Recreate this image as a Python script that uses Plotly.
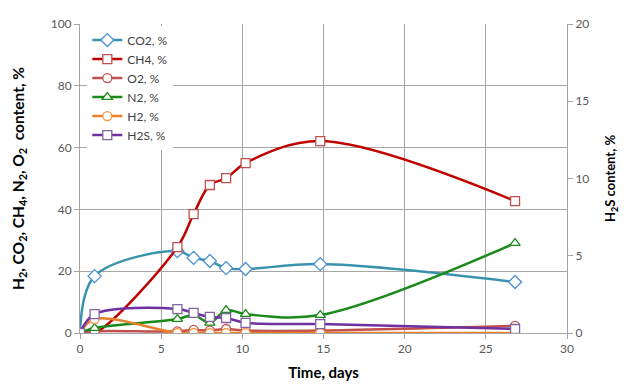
import plotly.graph_objects as go

days = [0, 0.9, 6.0, 7.0, 8.0, 9.0, 10.2, 14.8, 26.8]
co2 = [0, 18.4, 26.5, 24.3, 23.3, 21.0, 20.7, 22.3, 16.5]
ch4 = [0, 0, 27.8, 38.5, 47.9, 50.1, 55.0, 62.1, 42.7]
o2 = [0, 0.6, 0.5, 1.0, 0.8, 1.3, 0.8, 0.8, 2.3]
n2 = [0, 1.6, 4.5, 5.8, 3.3, 7.4, 6.1, 5.8, 29.1]
h2 = [0, 4.5, 0, 0, 0, 0, 0, 0, 0]
h2s = [0, 1.22, 1.55, 1.3, 1.04, 0.97, 0.66, 0.58, 0.26]

series = [
    ("CO2, %", co2, "#3a93ad", "#4a8fd0", "diamond", "y"),
    ("CH4, %", ch4, "#c00000", "#c0504d", "square", "y"),
    ("O2, %", o2, "#c0504d", "#c0504d", "circle", "y"),
    ("N2, %", n2, "#1a8a1a", "#1a8a1a", "triangle-up", "y"),
    ("H2, %", h2, "#e9802a", "#f79646", "circle", "y"),
    ("H2S, %", h2s, "#7030a0", "#8064a2", "square", "y2"),
]

fig = go.Figure()
for name, vals, lc, mc, sym, ax in series:
    fig.add_trace(go.Scatter(
        x=days, y=vals, name=name, yaxis=ax, mode="lines+markers",
        line=dict(color=lc, width=2.5, shape="spline", smoothing=1.0),
        marker=dict(symbol=sym, size=9 if sym != "diamond" else 10,
                    color="white", line=dict(color=mc, width=1.3)),
    ))

grid = "#a6a6a6"
tickfont = dict(family="Lato, Open Sans, sans-serif", size=12, color="#595959")
fig.update_layout(
    width=633, height=382,
    margin=dict(l=72, r=74, t=16, b=57, autoexpand=False),
    paper_bgcolor="white", plot_bgcolor="white",
    font=dict(family="Lato, Open Sans, sans-serif", size=12, color="#404040"),
    showlegend=True,
    legend=dict(x=0.015, y=0.995, xanchor="left", yanchor="top",
                bgcolor="white", font=dict(size=12, color="#404040"),
                tracegroupgap=0, itemwidth=30),
    xaxis=dict(range=[0, 30], dtick=5, showgrid=True, gridcolor=grid, gridwidth=1,
               showline=True, linecolor=grid, ticks="outside", ticklen=5,
               tickcolor=grid, tickfont=tickfont, zeroline=False, automargin=False,
               title=dict(text="<b>Time, days</b>", font=dict(size=15, color="#000"), standoff=12)),
    yaxis=dict(range=[0, 100], dtick=20, showgrid=True, gridcolor=grid, gridwidth=1,
               showline=True, linecolor=grid, ticks="outside", ticklen=5,
               tickcolor=grid, tickfont=tickfont, zeroline=False, automargin=False,
               title=dict(text="<b>H<sub>2</sub>, CO<sub>2</sub>, CH<sub>4</sub>, N<sub>2</sub>, O<sub>2</sub>  content, %</b>",
                          font=dict(size=15.5, color="#000"), standoff=22)),
    yaxis2=dict(range=[0, 20], dtick=5, overlaying="y", side="right", showgrid=False,
                showline=True, linecolor=grid, ticks="outside", ticklen=5,
                tickcolor=grid, tickfont=tickfont, zeroline=False, automargin=False,
                title=dict(text="<b>H<sub>2</sub>S content, %</b>",
                           font=dict(size=13, color="#000"), standoff=17)),
)

fig.write_html("out.html")
